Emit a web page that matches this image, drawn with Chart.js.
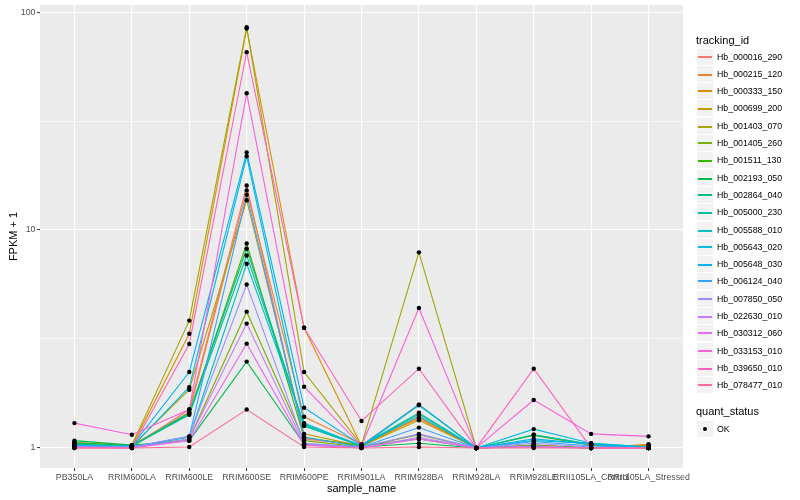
<!DOCTYPE html>
<html>
<head>
<meta charset="utf-8">
<script src="https://cdn.jsdelivr.net/npm/chart.js@4.4.1/dist/chart.umd.min.js"></script>
<style>
  html, body { margin: 0; padding: 0; background: #fff; }
  #wrap { position: relative; width: 800px; height: 500px; font-family: "Liberation Sans", Arial, sans-serif; }
  #chart { position: absolute; left: 0; top: 0; }
  .lg-title { position: absolute; left: 696px; font-size: 11px; line-height: 13px; color: #000; white-space: nowrap; }
  .lg-row { position: absolute; left: 697px; width: 100px; height: 17px; }
  .lg-key { position: absolute; left: 0; top: 0; width: 16px; height: 16px; background: #F2F2F2; }
  .lg-line { position: absolute; left: 1px; width: 14px; height: 2px; }
  .lg-dot { position: absolute; left: 6px; top: 6px; width: 4px; height: 4px; border-radius: 50%; background: #000; }
  .lg-label { position: absolute; left: 20px; top: 0; line-height: 17px; font-size: 8.8px; color: #000; white-space: nowrap; }
</style>
</head>
<body>
<div id="wrap">
  <canvas id="chart" width="800" height="500"></canvas>
</div>
<script>
// samples on the x axis
const samples = ['PB350LA', 'RRIM600LA', 'RRIM600LE', 'RRIM600SE', 'RRIM600PE', 'RRIM901LA',
  'RRIM928BA', 'RRIM928LA', 'RRIM928LE', 'RRII105LA_Control', 'RRII105LA_Stressed'];

const trackingIds = ['Hb_000016_290', 'Hb_000215_120', 'Hb_000333_150', 'Hb_000699_200', 'Hb_001403_070',
  'Hb_001405_260', 'Hb_001511_130', 'Hb_002193_050', 'Hb_002864_040', 'Hb_005000_230', 'Hb_005588_010',
  'Hb_005643_020', 'Hb_005648_030', 'Hb_006124_040', 'Hb_007850_050', 'Hb_022630_010', 'Hb_030312_060',
  'Hb_033153_010', 'Hb_039650_010', 'Hb_078477_010'];

// FPKM + 1, one value per sample
const hb_000016_290 = [1.02, 1.01, 1.50, 16.0, 1.10, 1.03, 1.58, 1.0, 1.02, 1.00, 1.01];
const hb_000215_120 = [1.06, 1.03, 1.46, 15.2, 1.39, 1.04, 1.36, 1.0, 1.03, 1.00, 1.04];
const hb_000333_150 = [1.04, 1.02, 3.34, 84.0, 3.56, 1.02, 1.38, 1.0, 1.02, 1.00, 1.03];
const hb_000699_200 = [1.03, 1.02, 1.85, 13.7, 1.16, 1.02, 1.34, 1.0, 1.01, 1.00, 1.02];
const hb_001403_070 = [1.05, 1.03, 3.84, 85.3, 2.23, 1.03, 7.90, 1.0, 1.02, 1.00, 1.02];
const hb_001405_260 = [1.04, 1.01, 1.10, 4.22, 1.08, 1.01, 1.15, 1.0, 1.03, 1.00, 1.01];
const hb_001511_130 = [1.06, 1.02, 1.43, 8.67, 1.12, 1.02, 1.10, 1.0, 1.14, 1.03, 1.01];
const hb_002193_050 = [1.08, 1.03, 1.08, 2.49, 1.04, 1.01, 1.05, 1.0, 1.02, 1.00, 1.00];
const hb_002864_040 = [1.05, 1.02, 1.45, 8.20, 1.26, 1.02, 1.43, 1.0, 1.15, 1.04, 1.01];
const hb_005000_230 = [1.04, 1.02, 1.42, 7.64, 1.28, 1.03, 1.45, 1.0, 1.15, 1.04, 1.01];
const hb_005588_010 = [1.03, 1.01, 1.12, 7.00, 1.27, 1.02, 1.58, 1.0, 1.08, 1.05, 1.01];
const hb_005643_020 = [1.02, 1.01, 1.90, 21.8, 1.30, 1.02, 1.57, 1.0, 1.22, 1.05, 1.01];
const hb_005648_030 = [1.02, 1.02, 2.23, 22.7, 1.53, 1.03, 1.40, 1.0, 1.10, 1.04, 1.00];
const hb_006124_040 = [1.02, 1.01, 1.13, 14.5, 1.12, 1.01, 1.24, 1.0, 1.07, 1.02, 1.00];
const hb_007850_050 = [1.01, 1.01, 1.13, 5.62, 1.05, 1.01, 1.16, 1.0, 1.05, 1.01, 1.00];
const hb_022630_010 = [1.01, 1.00, 1.10, 3.72, 1.04, 1.00, 1.12, 1.0, 1.02, 1.00, 1.00];
const hb_030312_060 = [1.01, 1.00, 1.08, 3.01, 1.03, 1.00, 1.10, 1.0, 1.01, 1.00, 1.00];
const hb_033153_010 = [1.30, 1.15, 1.50, 42.4, 1.91, 1.02, 4.39, 1.0, 1.66, 1.16, 1.13];
const hb_039650_010 = [1.00, 1.00, 3.00, 65.5, 3.56, 1.33, 2.31, 1.0, 2.31, 1.00, 1.00];
const hb_078477_010 = [1.00, 1.00, 1.01, 1.50, 1.01, 1.00, 1.01, 1.0, 1.00, 1.00, 1.00];

const series = [hb_000016_290, hb_000215_120, hb_000333_150, hb_000699_200, hb_001403_070,
  hb_001405_260, hb_001511_130, hb_002193_050, hb_002864_040, hb_005000_230, hb_005588_010,
  hb_005643_020, hb_005648_030, hb_006124_040, hb_007850_050, hb_022630_010, hb_030312_060,
  hb_033153_010, hb_039650_010, hb_078477_010];

// ggplot default hue palette, 20 levels
const palette = ['#F8766D', '#EA8331', '#D89000', '#C09B00', '#A3A500', '#7CAE00', '#39B600', '#00BB4E',
  '#00BF7D', '#00C1A3', '#00BFC4', '#00BAE0', '#00B0F6', '#35A2FF', '#9590FF', '#C77CFF', '#E76BF3',
  '#FA62DB', '#FF62BC', '#FF6C91'];

const yTicks = [1, Math.pow(10, 0.5), 10, Math.pow(10, 1.5), 100];

function isMajor(v) {
  const l = Math.log10(v);
  return Math.abs(l - Math.round(l)) < 1e-6;
}

// grey panel behind everything
const panelBg = {
  id: 'panelBg',
  beforeDraw(chart) {
    const { ctx, chartArea: a } = chart;
    ctx.save();
    ctx.fillStyle = '#EBEBEB';
    ctx.fillRect(a.left, a.top, a.right - a.left, a.bottom - a.top);
    ctx.restore();
  }
};

const datasets = series.map(function(vals, i) {
  return {
    type: 'line',
    label: trackingIds[i],
    data: vals.map(function(v, j) { return { x: j, y: v }; }),
    borderColor: palette[i],
    borderWidth: 1.1,
    pointRadius: 0,
    tension: 0,
    order: series.length - i
  };
});

const pts = [];
series.forEach(function(vals) {
  vals.forEach(function(v, j) { pts.push({ x: j, y: v }); });
});
datasets.push({
  type: 'scatter',
  label: 'OK',
  data: pts,
  showLine: false,
  pointStyle: 'circle',
  pointRadius: 2.2,
  pointBackgroundColor: '#000',
  pointBorderWidth: 0,
  order: 0
});

const font = "'Liberation Sans', Arial, sans-serif";

new Chart(document.getElementById('chart'), {
  type: 'line',
  data: { datasets: datasets },
  plugins: [panelBg],
  options: {
    responsive: false,
    animation: false,
    events: [],
    layout: { autoPadding: false, padding: { left: 0, top: 5, right: 117, bottom: 0 } },
    plugins: { legend: { display: false }, tooltip: { enabled: false } },
    scales: {
      x: {
        type: 'linear',
        min: -0.6,
        max: 10.6,
        afterBuildTicks: function(s) { s.ticks = samples.map(function(_, j) { return { value: j }; }); },
        afterFit: function(s) { s.height = 32; s.paddingLeft = 0; s.paddingRight = 0; },
        border: { display: false },
        grid: { color: '#FFFFFF', lineWidth: 1.1, drawTicks: true, tickLength: 3, tickColor: '#333333', tickWidth: 1 },
        ticks: {
          autoSkip: false, maxRotation: 0, minRotation: 0, padding: 1.5,
          color: '#4D4D4D', font: { family: font, size: 8.8 },
          callback: function(v) { return samples[v]; }
        },
        title: { display: true, text: 'sample_name', color: '#000', font: { family: font, size: 11 }, padding: { top: 0, bottom: 4.5 } }
      },
      y: {
        type: 'logarithmic',
        min: 0.809,
        max: 107.8,
        afterBuildTicks: function(s) { s.ticks = yTicks.map(function(v) { return { value: v }; }); },
        afterFit: function(s) { s.width = 40; s.paddingTop = 0; s.paddingBottom = 0; },
        border: { display: false },
        grid: {
          color: '#FFFFFF',
          lineWidth: function(c) { return c.tick && isMajor(c.tick.value) ? 1.1 : 0.55; },
          drawTicks: true, tickLength: 3, tickWidth: 1,
          tickColor: function(c) { return c.tick && isMajor(c.tick.value) ? '#333333' : 'rgba(0,0,0,0)'; }
        },
        ticks: {
          padding: 1.5, color: '#4D4D4D', font: { family: font, size: 8.8 },
          callback: function(v) { return isMajor(v) ? String(Math.round(v)) : ''; }
        },
        title: { display: true, text: 'FPKM + 1', color: '#000', font: { family: font, size: 11 }, padding: { top: 7, bottom: 0 } }
      }
    }
  }
});

// ggplot-style legend on the right
(function buildLegend() {
  const wrap = document.getElementById('wrap');
  function title(text, top) {
    const t = document.createElement('div');
    t.className = 'lg-title';
    t.style.top = top + 'px';
    t.textContent = text;
    wrap.appendChild(t);
  }
  title('tracking_id', 34);
  trackingIds.forEach(function(id, i) {
    const top = Math.round(48.5 + i * 17.3);
    const lineTop = (top + 7) % 2 === 0 ? 7 : 8;   // keep the key line on even pixel rows
    const row = document.createElement('div');
    row.className = 'lg-row';
    row.style.top = top + 'px';
    row.innerHTML = '<div class="lg-key"><div class="lg-line" style="top:' + lineTop + 'px;background:' + palette[i] + '"></div></div>' +
      '<div class="lg-label">' + id + '</div>';
    wrap.appendChild(row);
  });
  title('quant_status', 405);
  const ok = document.createElement('div');
  ok.className = 'lg-row';
  ok.style.top = '421px';
  ok.innerHTML = '<div class="lg-key"><div class="lg-dot"></div></div><div class="lg-label">OK</div>';
  wrap.appendChild(ok);
})();
</script>
</body>
</html>
